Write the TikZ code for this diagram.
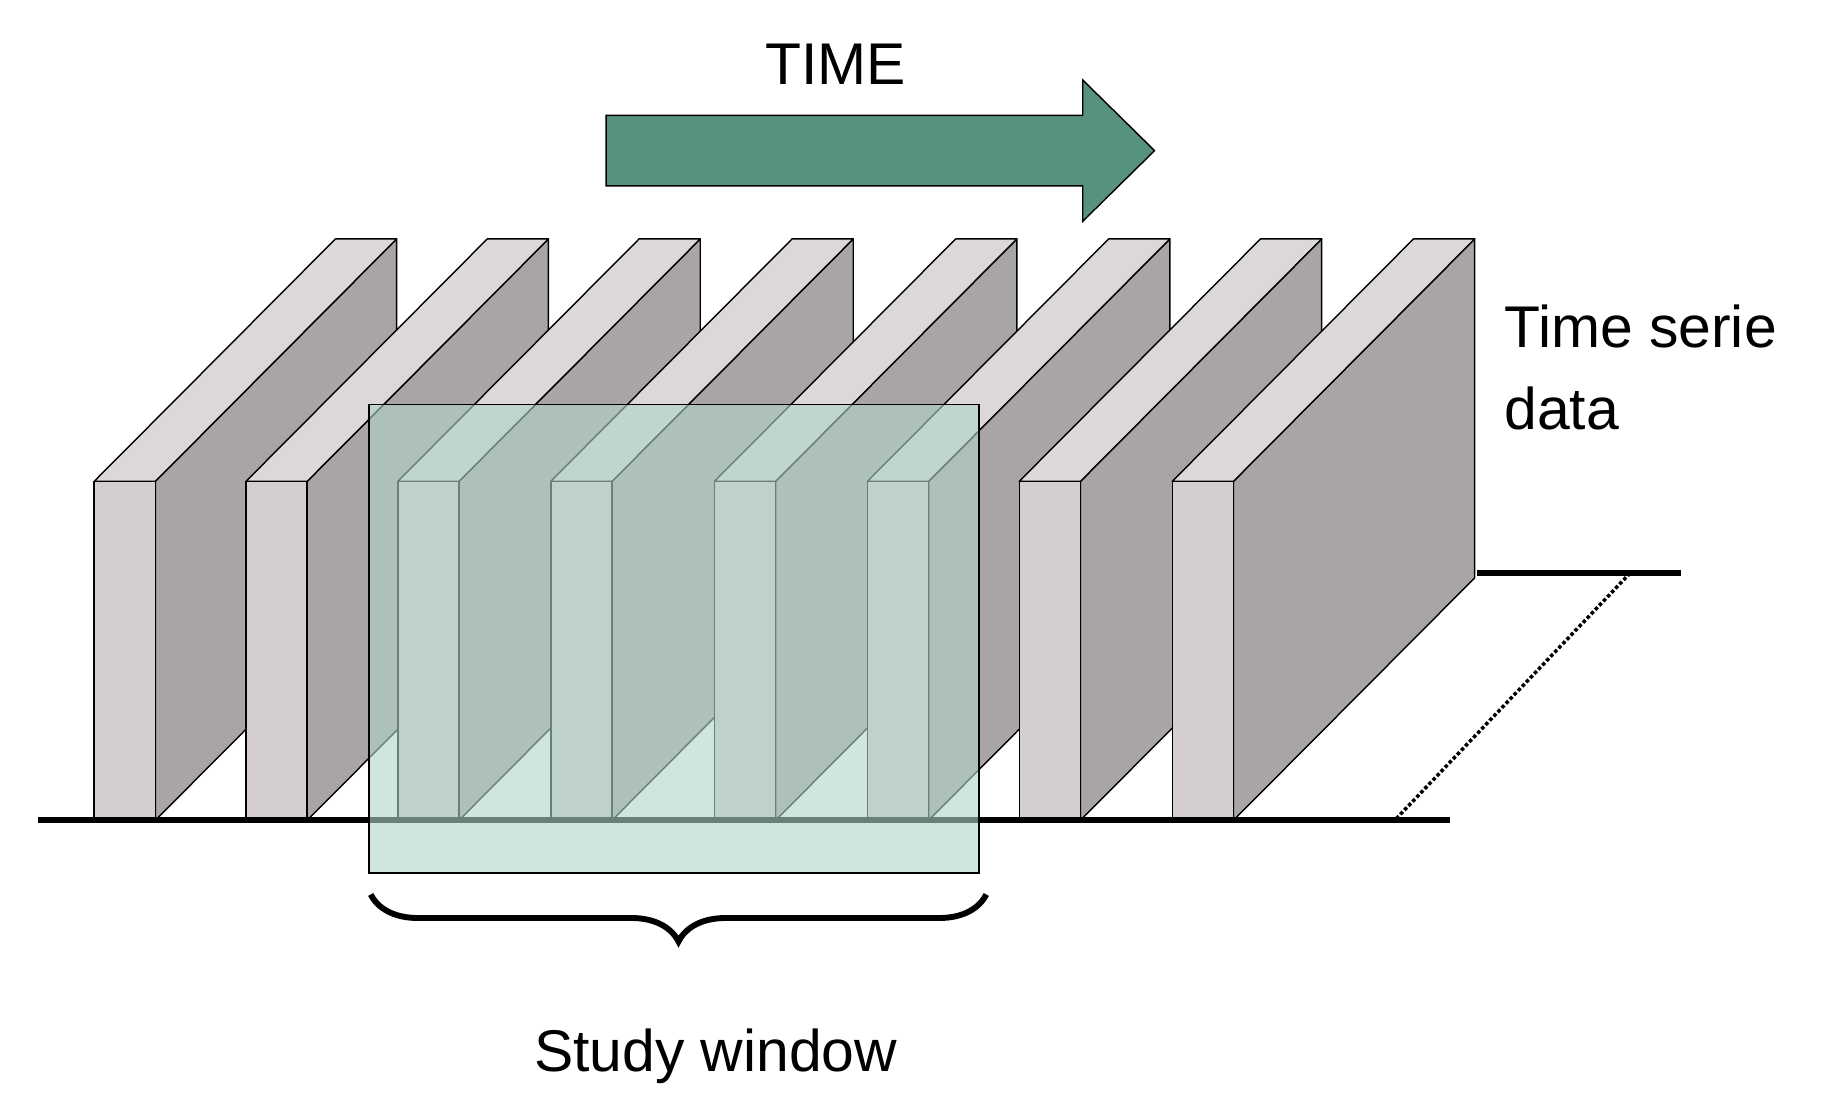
\documentclass[tikz,border=0pt]{standalone}
\usepackage{fontspec}
\setmainfont{Liberation Sans}
\usetikzlibrary{decorations.pathreplacing}
\definecolor{topc}{HTML}{DCD8D7}
\definecolor{sidec}{HTML}{A9A5A4}
\definecolor{frontc}{HTML}{D4CECF}
\definecolor{arrowc}{HTML}{57917F}
\definecolor{winc}{RGB}{176,212,202}
\tikzset{
  face/.style={draw=black, line width=1.2pt, line join=round},
  lbl/.style={font=\fontsize{50}{60}\selectfont, inner sep=0pt},
}
\newcommand{\slab}[1]{%
  \fill[face, fill=sidec] (#1+52,-409) -- (#1+257,-203) -- (#1+257,-491) -- (#1+52,-697) -- cycle;
  \fill[face, fill=topc] (#1,-409) -- (#1+205,-203) -- (#1+257,-203) -- (#1+52,-409) -- cycle;
  \fill[face, fill=frontc] (#1,-409) rectangle (#1+52,-697);
}
\begin{document}
\begin{tikzpicture}[x=1pt,y=1pt]
\useasboundingbox (0,0) rectangle (1560,-941.5);
\foreach \xx in {80,209,338,468,607,737,866,996} {\slab{\xx}}
\draw[line width=5pt] (32,-697) -- (1232,-697);
\draw[line width=5pt] (1255,-487) -- (1428,-487);
\coordinate (d1) at (1385,-487);
\coordinate (d2) at (1185,-697);
\draw[line width=3pt, dotted] (d1) -- (d2);
\node[draw=black, line width=1.5pt, fill=winc, fill opacity=0.6, minimum width=518pt, minimum height=398pt, inner sep=0pt, anchor=north west] (win) at (313,-343) {};
\draw[decorate, decoration={brace, mirror, amplitude=40pt}, line width=5pt] (315,-760) -- (838,-760);
\node[lbl, anchor=base] (sw) at (608,-910) {Study window};
\node[lbl, anchor=base] (time) at (710,-72) {TIME};
\fill[arrowc, draw=black, line width=1.2pt] (515,-98) -- (920,-98) -- (920,-68) -- (981,-128) -- (920,-188) -- (920,-158) -- (515,-158) -- cycle;
\node[lbl, anchor=base west, align=left] (ts) at (1278,-295) {Time serie};
\node[lbl, anchor=base west] (ts2) at (1278,-365) {data};
\end{tikzpicture}
\end{document}
